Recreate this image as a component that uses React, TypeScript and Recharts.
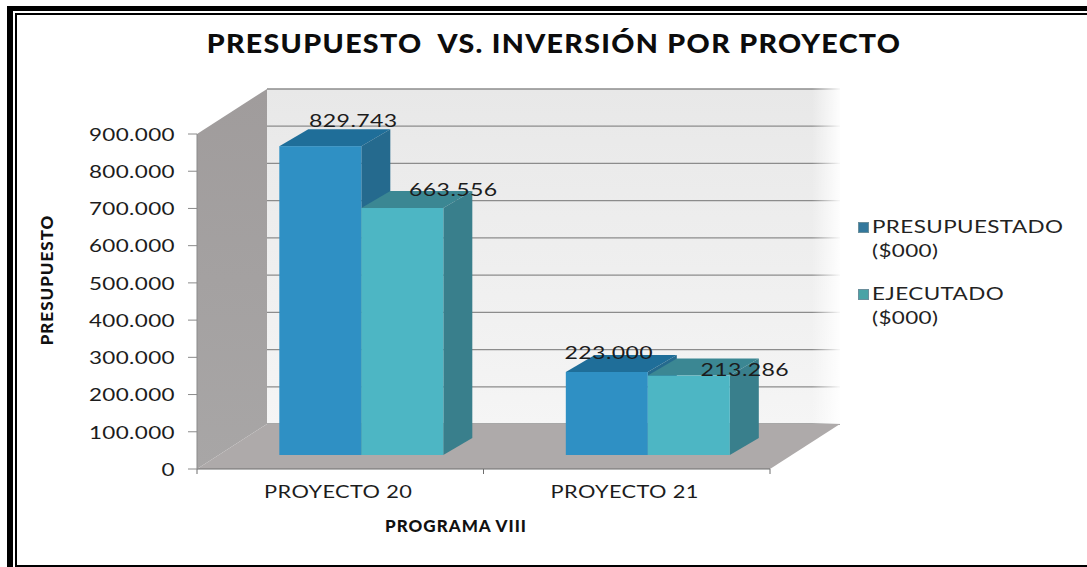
import React from "react";
import { BarChart, Bar, XAxis, YAxis, ReferenceArea, LabelList, Label, Legend } from "recharts";

const categories = ["PROYECTO 20", "PROYECTO 21"];
const presupuestado = [829743, 223000];
const ejecutado = [663556, 213286];
const yTicks = [0, 100000, 200000, 300000, 400000, 500000, 600000, 700000, 800000, 900000];
const seriesNames = ["PRESUPUESTADO ($000)", "EJECUTADO ($000)"];

const rows = categories.map((name, i) => ({ name, presupuestado: presupuestado[i], ejecutado: ejecutado[i] }));

const FONT = "Lato, 'Noto Sans', sans-serif";
const WALL_DX = 70;
const WALL_DY = 45;
const BAR_DX = 21;
const BAR_DY = 14;
const DEPTH_DX = 29;
const DEPTH_DY = 17;
const STRETCH = 1.32;

const fmt = (v: number) => String(v).replace(/\B(?=(\d{3})+$)/g, ".");

const Wide = ({ x, y, anchor, children, fs = 17 }: any) => (
  <text
    transform={`translate(${x} ${y}) scale(${STRETCH} 1)`}
    textAnchor={anchor}
    dominantBaseline="central"
    fontFamily={FONT}
    fontSize={fs}
    letterSpacing={0.3}
    fill="#1c1c1c"
  >
    {children}
  </text>
);

const YTick = (p: any) => <Wide x={p.x} y={p.y} anchor="end">{fmt(p.payload.value)}</Wide>;
const XTick = (p: any) => <Wide x={p.x - 2} y={p.y + 3} anchor="middle" fs={16.5}>{p.payload.value}</Wide>;

const Walls = (p: any) => {
  const { x, y, width, height } = p;
  const max = yTicks[yTicks.length - 1];
  const bx = x + WALL_DX;
  const r = x + width;
  const bottom = y + height;
  return (
    <g>
      <defs>
        <linearGradient id="sideG" x1="0" y1="0" x2="0" y2="1">
          <stop offset="0" stopColor="#a09c9c" />
          <stop offset="1" stopColor="#a8a6a6" />
        </linearGradient>
        <linearGradient id="fade" x1="0" y1="0" x2="1" y2="0">
          <stop offset="0" stopColor="#fff" stopOpacity="0" />
          <stop offset="1" stopColor="#fff" stopOpacity="1" />
        </linearGradient>
        <linearGradient id="wallG" x1="0" y1="0" x2="0" y2="1">
          <stop offset="0" stopColor="#e8e8e8" />
          <stop offset="1" stopColor="#f5f5f5" />
        </linearGradient>
      </defs>
      <rect x={bx} y={y - WALL_DY} width={width} height={height} fill="url(#wallG)" />
      {yTicks.map((t) => {
        const ly = bottom - WALL_DY - (t / max) * height;
        return <line key={t} x1={bx} x2={bx + width} y1={ly} y2={ly} stroke="#8c8c8c" strokeWidth={1.3} />;
      })}
      <rect x={r + 42} y={y - WALL_DY - 3} width={WALL_DX - 40} height={height + 3} fill="url(#fade)" />
      <polygon points={`${x},${y} ${bx},${y - WALL_DY} ${bx},${bottom - WALL_DY} ${x},${bottom}`} fill="url(#sideG)" />
      <polygon points={`${x},${bottom} ${r},${bottom} ${r + WALL_DX},${bottom - WALL_DY} ${bx},${bottom - WALL_DY}`} fill="#aeaaaa" />
      {[x, x + width / 2, r].map((tx) => (
        <line key={tx} x1={tx} x2={tx} y1={bottom} y2={bottom + 5} stroke="#6e6e6e" />
      ))}
    </g>
  );
};

const Box3D = (p: any, front: string, top: string, side: string) => {
  const x = p.x + BAR_DX;
  const y = p.y - BAR_DY;
  const { width: w, height: h } = p;
  return (
    <g>
      <polygon points={`${x},${y} ${x + DEPTH_DX},${y - DEPTH_DY} ${x + w + DEPTH_DX},${y - DEPTH_DY} ${x + w},${y}`} fill={top} />
      <polygon points={`${x + w},${y} ${x + w + DEPTH_DX},${y - DEPTH_DY} ${x + w + DEPTH_DX},${y + h - DEPTH_DY} ${x + w},${y + h}`} fill={side} />
      <rect x={x} y={y} width={w} height={h} fill={front} />
    </g>
  );
};

const offsets: Record<string, [number, number][]> = {
  presupuestado: [[95, -40], [64, -34]],
  ejecutado: [[113, -33], [118, -20]],
};

const valueLabel = (key: string) => (p: any) => {
  const [ox, oy] = offsets[key][p.index];
  return <Wide x={p.x + ox} y={p.y + oy} anchor="middle" fs={17.5}>{fmt(p.value)}</Wide>;
};

const LegendBox = () => {
  const colors = ["#33789c", "#4aa3a6"];
  return (
    <div style={{ fontFamily: FONT, fontSize: 17, letterSpacing: 0.3, color: "#222", lineHeight: "24px", width: 210 }}>
      {seriesNames.map((n, i) => {
        const [a, b] = n.split(" ");
        return (
          <div key={n} style={{ position: "relative", paddingLeft: 14, marginBottom: 19 }}>
            <span style={{ position: "absolute", left: 0, top: 7, width: 11, height: 11, background: colors[i], border: "1px solid #6b8f9c", boxSizing: "border-box" }} />
            <div style={{ transform: `scaleX(${STRETCH})`, transformOrigin: "left center", whiteSpace: "nowrap" }}>
              {a}
              <br />
              {b}
            </div>
          </div>
        );
      })}
    </div>
  );
};

const axisTitle = { fontFamily: FONT, fontWeight: 900, fontSize: 17, letterSpacing: 1, fill: "#111" };

const rule = (s: React.CSSProperties): React.CSSProperties => ({ position: "absolute", background: "#000", ...s });

export default function App() {
  return (
    <div style={{ position: "absolute", left: 0, top: 0, width: 1087, height: 567, overflow: "hidden", background: "#fff" }}>
      <div style={rule({ left: 7, top: 6, right: 0, height: 5 })} />
      <div style={rule({ left: 7, top: 6, bottom: 0, width: 6 })} />
      <div style={rule({ left: 15, top: 13, right: 0, height: 2 })} />
      <div style={rule({ left: 15, top: 13, bottom: 0, width: 2 })} />
      <div style={rule({ left: 15, bottom: 0, right: 0, height: 2 })} />
      <div style={{ position: "absolute", left: 0, width: 1108, top: 27, textAlign: "center", fontFamily: FONT, fontWeight: 900, fontSize: 26, letterSpacing: 1.2, color: "#0c0c0c", whiteSpace: "pre", transform: "scaleX(1.1)", transformOrigin: "554px 0" }}>
        PRESUPUESTO  VS. INVERSIÓN POR PROYECTO
      </div>
      <BarChart
        width={1087}
        height={567}
        data={rows}
        margin={{ top: 134, right: 107, bottom: 58, left: 30 }}
        barCategoryGap="21.4%"
        barGap={0}
        style={{ position: "absolute", left: 0, top: 0 }}
      >
        <XAxis dataKey="name" height={40} tickLine={false} tickMargin={14} stroke="#6e6e6e" tick={XTick}>
          <Label content={() => <text x={456} y={532} textAnchor="middle" style={axisTitle}>PROGRAMA VIII</text>} />
        </XAxis>
        <YAxis width={167} domain={[0, 900000]} ticks={yTicks} tickSize={9} tickMargin={13} stroke="#8a8a8a" tick={YTick}>
          <Label content={() => <text transform="translate(53 280) rotate(-90)" textAnchor="middle" style={axisTitle}>PRESUPUESTO</text>} />
        </YAxis>
        <ReferenceArea shape={Walls} stroke="none" fill="none" />
        <Legend
          layout="vertical"
          align="right"
          verticalAlign="top"
          width={210}
          content={LegendBox}
          wrapperStyle={{ position: "absolute", left: 858, top: 215, right: "auto", width: 210 }}
        />
        <Bar dataKey="presupuestado" isAnimationActive={false} shape={(p: any) => Box3D(p, "#2f90c4", "#1f6e99", "#256a8e")}>
          <LabelList dataKey="presupuestado" content={valueLabel("presupuestado")} />
        </Bar>
        <Bar dataKey="ejecutado" isAnimationActive={false} shape={(p: any) => Box3D(p, "#4db6c4", "#3b8793", "#397f8c")}>
          <LabelList dataKey="ejecutado" content={valueLabel("ejecutado")} />
        </Bar>
      </BarChart>
    </div>
  );
}
